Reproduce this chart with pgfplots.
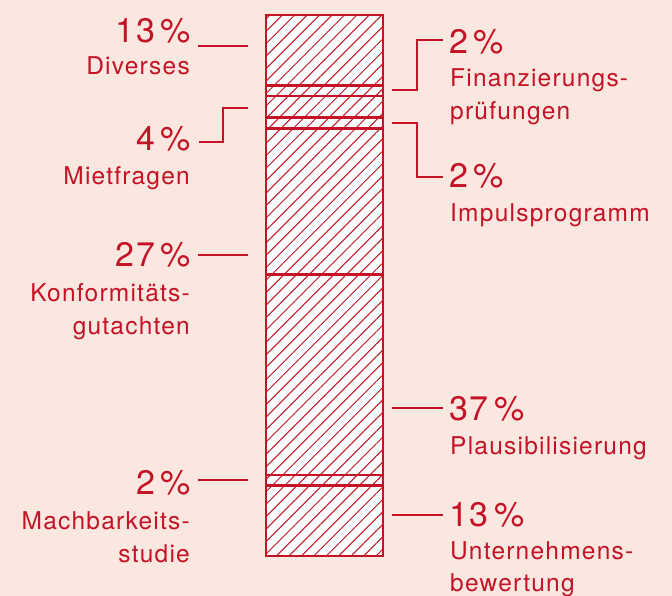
\documentclass[border=0pt]{standalone}
\usepackage{pgfplots}
\pgfplotsset{compat=1.18}
\usetikzlibrary{patterns.meta}
\usepackage{fontspec}
\setmainfont{TeX Gyre Heros}[LetterSpace=5]
\definecolor{rd}{RGB}{198,18,38}
\definecolor{bgc}{RGB}{250,231,224}
\newcommand{\pct}[1]{\fontsize{34}{34}\selectfont #1\,\%}
\newcommand{\lab}{\fontsize{24.5}{33}\selectfont}
\pgfplotsset{mybar/.style={
    draw=rd, line width=2.6pt, fill=white,
    postaction={pattern={Lines[angle=45,distance=8.8pt,line width=1pt]}, pattern color=rd}
}}
\begin{document}
\begin{tikzpicture}
\useasboundingbox (0,0) rectangle (672pt,596pt);
\fill[bgc] (0,0) rectangle (672pt,596pt);
\begin{axis}[
  at={(266pt,40pt)}, anchor=south west,
  scale only axis, width=117pt, height=541pt,
  xmin=-0.5, xmax=0.5, ymin=0, ymax=100,
  hide axis, clip=false,
  ybar stacked, bar width=117pt,
]
\addplot[mybar] coordinates {(0,13)}; % Unternehmensbewertung
\addplot[mybar] coordinates {(0,2)};  % Machbarkeitsstudie
\addplot[mybar] coordinates {(0,37)}; % Plausibilisierung
\addplot[mybar] coordinates {(0,27)}; % Konformitaetsgutachten
\addplot[mybar] coordinates {(0,2)};  % Impulsprogramm
\addplot[mybar] coordinates {(0,4)};  % Mietfragen
\addplot[mybar] coordinates {(0,2)};  % Finanzierungspruefungen
\addplot[mybar] coordinates {(0,13)}; % Diverses
\end{axis}
\begin{scope}[x=1pt,y=1pt,rd,line width=2.4pt]
% leader lines left
\draw (198,550) -- (248,550);
\draw (248,488) -- (223,488) -- (223,454) -- (199,454);
\draw (198,341) -- (248,341);
\draw (198,116) -- (248,116);
% leader lines right
\draw (392,506) -- (417,506) -- (417,556) -- (443,556);
\draw (392,473) -- (417,473) -- (417,419) -- (443,419);
\draw (392,188) -- (443,188);
\draw (392,81) -- (443,81);
% left texts
\begin{scope}[every node/.style={anchor=base east,inner sep=0pt,text=rd}]
\node at (192,553) {\pct{13}};
\node at (191,521) {\lab Diverses};
\node at (192,445) {\pct{4}};
\node at (191,411) {\lab Mietfragen};
\node at (192,329) {\pct{27}};
\node at (191,294) {\lab Konformitäts-};
\node at (191,261) {\lab gutachten};
\node at (192,101) {\pct{2}};
\node at (191,66) {\lab Machbarkeits-};
\node at (191,33) {\lab studie};
\end{scope}
% right texts
\begin{scope}[every node/.style={anchor=base west,inner sep=0pt,text=rd}]
\node at (448,542) {\pct{2}};
\node at (449,509) {\lab Finanzierungs-};
\node at (449,476) {\lab prüfungen};
\node at (448,408) {\pct{2}};
\node at (449,374) {\lab Impulsprogramm};
\node at (448,175) {\pct{37}};
\node at (449,141) {\lab Plausibilisierung};
\node at (448,69) {\pct{13}};
\node at (449,36) {\lab Unternehmens-};
\node at (449,4) {\lab bewertung};
\end{scope}
\end{scope}
\end{tikzpicture}
\end{document}
